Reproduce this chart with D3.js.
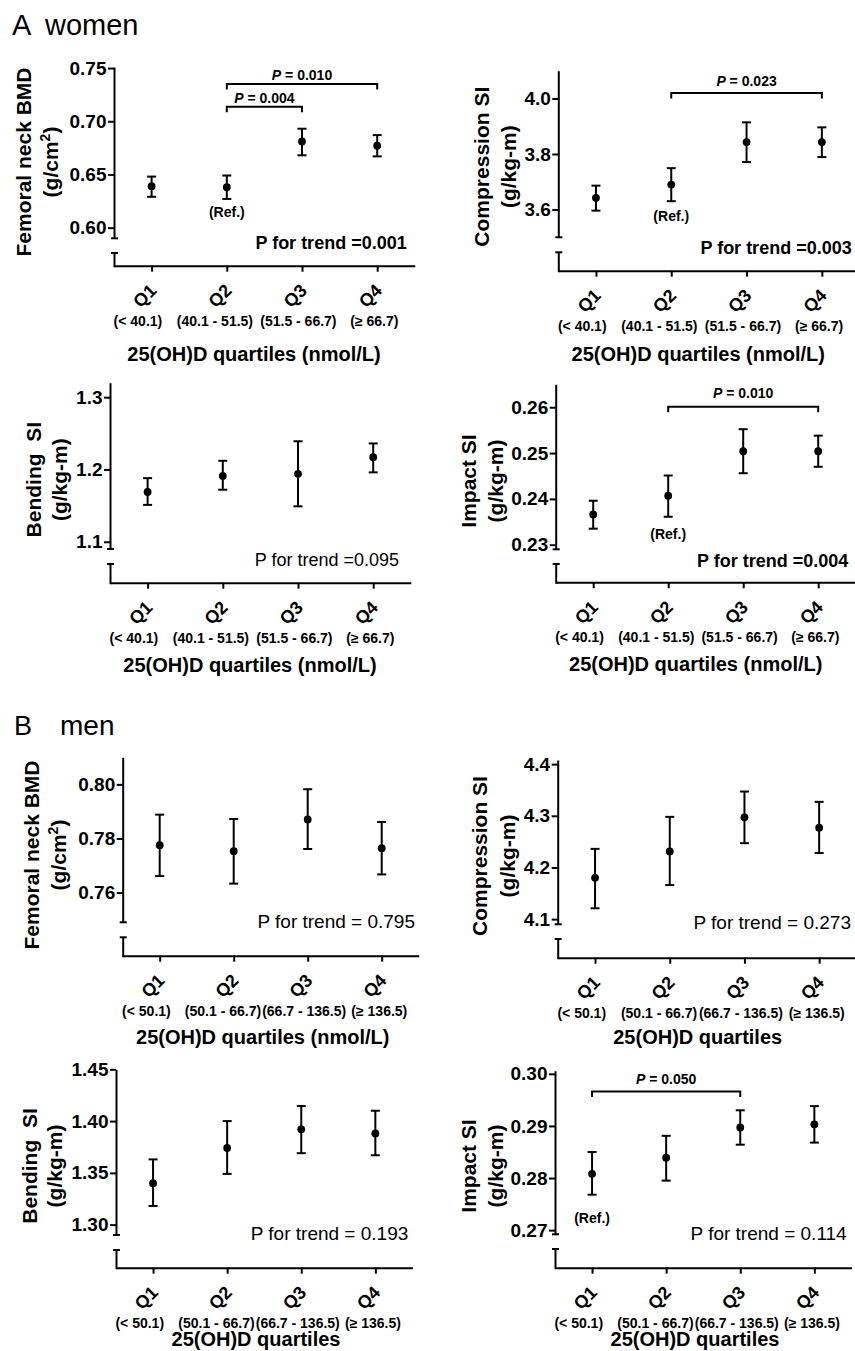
<!DOCTYPE html>
<html lang="en">
<head>
<meta charset="UTF-8">
<title>25(OH)D quartiles and bone strength</title>
<script src="https://d3js.org/d3.v7.min.js"></script>
<style>
  body { margin: 0; background: #fff; }
  svg { display: block; font-family: "Liberation Sans", Arial, Helvetica, sans-serif; }
</style>
</head>
<body>
<svg id="chart"></svg>
<script>
// categories and tick labels
const quartiles = ["Q1", "Q2", "Q3", "Q4"];
const womenRanges = ["(< 40.1)", "(40.1 - 51.5)", "(51.5 - 66.7)", "(≥ 66.7)"];
const menRanges = ["(< 50.1)", "(50.1 - 66.7)", "(66.7 - 136.5)", "(≥ 136.5)"];

// women (mean, lower and upper end of error bar)
const womenBmd = [0.639, 0.638, 0.681, 0.677];
const womenBmdLow = [0.629, 0.627, 0.668, 0.667];
const womenBmdHigh = [0.648, 0.649, 0.693, 0.687];
const womenBmdTicks = [0.60, 0.65, 0.70, 0.75];

const womenComp = [3.642, 3.690, 3.843, 3.843];
const womenCompLow = [3.596, 3.630, 3.771, 3.789];
const womenCompHigh = [3.686, 3.749, 3.914, 3.896];
const womenCompTicks = [3.6, 3.8, 4.0];

const womenBend = [1.169, 1.191, 1.194, 1.217];
const womenBendLow = [1.151, 1.172, 1.149, 1.196];
const womenBendHigh = [1.188, 1.212, 1.239, 1.236];
const womenBendTicks = [1.1, 1.2, 1.3];

const womenImpact = [0.2366, 0.2407, 0.2504, 0.2504];
const womenImpactLow = [0.2335, 0.2361, 0.2456, 0.2470];
const womenImpactHigh = [0.2396, 0.2451, 0.2552, 0.2538];
const womenImpactTicks = [0.23, 0.24, 0.25, 0.26];

// men
const menBmd = [0.7775, 0.7753, 0.7870, 0.7764];
const menBmdLow = [0.7661, 0.7633, 0.7761, 0.7667];
const menBmdHigh = [0.7888, 0.7872, 0.7982, 0.7861];
const menBmdTicks = [0.76, 0.78, 0.80];

const menComp = [4.180, 4.231, 4.297, 4.277];
const menCompLow = [4.121, 4.166, 4.247, 4.228];
const menCompHigh = [4.236, 4.298, 4.347, 4.327];
const menCompTicks = [4.1, 4.2, 4.3, 4.4];

const menBend = [1.340, 1.374, 1.392, 1.388];
const menBendLow = [1.318, 1.349, 1.369, 1.367];
const menBendHigh = [1.363, 1.400, 1.4145, 1.410];
const menBendTicks = [1.30, 1.35, 1.40, 1.45];

const menImpact = [0.2808, 0.2839, 0.2897, 0.2903];
const menImpactLow = [0.2768, 0.2795, 0.2864, 0.2868];
const menImpactHigh = [0.2850, 0.2881, 0.2930, 0.2938];
const menImpactTicks = [0.27, 0.28, 0.29, 0.30];

// pairwise comparisons [from, to, P]
const womenBmdComparisons = [["Q2", "Q4", "0.010"], ["Q2", "Q3", "0.004"]];
const womenCompComparisons = [["Q2", "Q4", "0.023"]];
const womenImpactComparisons = [["Q2", "Q4", "0.010"]];
const menImpactComparisons = [["Q1", "Q3", "0.050"]];

const W = 855, H = 1351;
const svg = d3.select("#chart").attr("width", W).attr("height", H);

// offsets of the range labels from their tick (they are not centred)
const womenRangeShift = [-13.7, -11.9, -3.6, -2.8];
const menRangeShift = [-13.3, -10.7, -3.5, -2.4];

const panels = [
  { mean: womenBmd, low: womenBmdLow, high: womenBmdHigh, ticks: womenBmdTicks, fmt: ".2f",
    title: ["Femoral neck BMD", "(g/cm²)"], comps: womenBmdComparisons, ref: "Q2",
    trend: "P for trend =0.001", trendBold: true, ranges: womenRanges, xTitle: "25(OH)D quartiles (nmol/L)",
    L: { x0: 114, step: 75.2, domain: [0.59, 0.751], range: [238.3, 67], lowTop: 253, axisY: 265.7,
         titleX: [24, 51], titleY: 162, trendX: 406.7, trendY: 248.5, trendSize: 18,
         levels: [0.735, 0.7136], gaps: [4.3, 3.3], refY: 217, xTitleY: 361, shift: womenRangeShift } },
  { mean: womenComp, low: womenCompLow, high: womenCompHigh, ticks: womenCompTicks, fmt: ".1f",
    title: ["Compression SI", "(g/kg-m)"], comps: womenCompComparisons, ref: "Q2",
    trend: "P for trend =0.003", trendBold: true, ranges: womenRanges, xTitle: "25(OH)D quartiles (nmol/L)",
    L: { x0: 558.3, step: 75.3, domain: [3.5, 4.1], range: [237.3, 70.7], lowTop: 252.3, axisY: 270.7,
         titleX: [481.7, 508.3], titleY: 166.7, trendX: 851.7, trendY: 253.8, trendSize: 18,
         levels: [4.02], gaps: [7.4], refY: 220.5, xTitleY: 361, shift: womenRangeShift } },
  { mean: womenBend, low: womenBendLow, high: womenBendHigh, ticks: womenBendTicks, fmt: ".1f",
    title: ["Bending  SI", "(g/kg-m)"], comps: [], ref: null,
    trend: "P for trend =0.095", trendBold: false, ranges: womenRanges, xTitle: "25(OH)D quartiles (nmol/L)",
    L: { x0: 110, step: 75.2, domain: [1.09, 1.32], range: [549, 382.7], lowTop: 564, axisY: 582.7,
         titleX: [33.3, 59.3], titleY: 479.7, trendX: 399, trendY: 565.8, trendSize: 18,
         levels: [], gaps: [], refY: 0, xTitleY: 672, shift: womenRangeShift } },
  { mean: womenImpact, low: womenImpactLow, high: womenImpactHigh, ticks: womenImpactTicks, fmt: ".2f",
    title: ["Impact SI", "(g/kg-m)"], comps: womenImpactComparisons, ref: "Q2",
    trend: "P for trend =0.004", trendBold: true, ranges: womenRanges, xTitle: "25(OH)D quartiles (nmol/L)",
    L: { x0: 555.7, step: 75, domain: [0.229, 0.265], range: [549.3, 384.3], lowTop: 564, axisY: 582.3,
         titleX: [468.3, 495.7], titleY: 481, trendX: 848.3, trendY: 566.5, trendSize: 18,
         levels: [0.2601], gaps: [8.4], refY: 539, xTitleY: 671, shift: womenRangeShift } },
  { mean: menBmd, low: menBmdLow, high: menBmdHigh, ticks: menBmdTicks, fmt: ".2f",
    title: ["Femoral neck BMD", "(g/cm²)"], comps: [], ref: null,
    trend: "P for trend = 0.795", trendBold: false, ranges: menRanges, xTitle: "25(OH)D quartiles (nmol/L)",
    L: { x0: 122.7, step: 74, domain: [0.749, 0.81], range: [922.3, 757.3], lowTop: 937.3, axisY: 955.7,
         titleX: [31.7, 58.3], titleY: 855, trendX: 415, trendY: 927.8, trendSize: 19,
         levels: [], gaps: [], refY: 0, xTitleY: 1044, shift: menRangeShift } },
  { mean: menComp, low: menCompLow, high: menCompHigh, ticks: menCompTicks, fmt: ".1f",
    title: ["Compression SI", "(g/kg-m)"], comps: [], ref: null,
    trend: "P for trend = 0.273", trendBold: false, ranges: menRanges, xTitle: "25(OH)D quartiles",
    L: { x0: 557.7, step: 74.7, domain: [4.09, 4.408], range: [924.3, 760], lowTop: 939, axisY: 957.7,
         titleX: [480, 507.7], titleY: 856, trendX: 851, trendY: 929, trendSize: 19,
         levels: [], gaps: [], refY: 0, xTitleY: 1044, shift: menRangeShift } },
  { mean: menBend, low: menBendLow, high: menBendHigh, ticks: menBendTicks, fmt: ".2f",
    title: ["Bending  SI", "(g/kg-m)"], comps: [], ref: null,
    trend: "P for trend = 0.193", trendBold: false, ranges: menRanges, xTitle: "25(OH)D quartiles",
    L: { x0: 116, step: 74.1, domain: [1.29, 1.45], range: [1235, 1069.3], lowTop: 1250, axisY: 1267.7,
         titleX: [29.3, 54.3], titleY: 1166, trendX: 408.3, trendY: 1240, trendSize: 19,
         levels: [], gaps: [], refY: 0, xTitleY: 1346, shift: menRangeShift } },
  { mean: menImpact, low: menImpactLow, high: menImpactHigh, ticks: menImpactTicks, fmt: ".2f",
    title: ["Impact SI", "(g/kg-m)"], comps: menImpactComparisons, ref: "Q1",
    trend: "P for trend = 0.114", trendBold: false, ranges: menRanges, xTitle: "25(OH)D quartiles",
    L: { x0: 555, step: 74.1, domain: [0.2692, 0.3006], range: [1234.3, 1070.7], lowTop: 1249, axisY: 1267.7,
         titleX: [468.3, 495.7], titleY: 1166, trendX: 846.7, trendY: 1239.5, trendSize: 19,
         levels: [0.2966], gaps: [7.4], refY: 1222.5, xTitleY: 1346, shift: menRangeShift } }
];

// section headings
svg.append("text").attr("x", 12).attr("y", 35).attr("font-size", 29).text("A");
svg.append("text").attr("x", 45).attr("y", 35).attr("font-size", 29).text("women");
svg.append("text").attr("x", 14).attr("y", 734.5).attr("font-size", 27).text("B");
svg.append("text").attr("x", 60).attr("y", 734.5).attr("font-size", 28).text("men");

function hline(g, x1, x2, y) {
  g.append("line").attr("x1", x1).attr("x2", x2).attr("y1", y).attr("y2", y)
    .attr("stroke", "#000").attr("stroke-width", 2);
}

function drawPanel(p) {
  const L = p.L;
  const g = svg.append("g");

  const x = d3.scalePoint().domain(quartiles)
    .range([L.x0, L.x0 + 4 * L.step]).padding(0.5);
  const y = d3.scaleLinear().domain(L.domain).range(L.range);

  // y axis (upper part, above the break)
  const yAxis = g.append("g")
    .attr("transform", `translate(${L.x0},0)`)
    .call(d3.axisLeft(y).tickValues(p.ticks).tickFormat(d3.format(p.fmt))
      .tickSize(6).tickSizeOuter(0).tickPadding(1.5));
  yAxis.selectAll("path, line").attr("stroke", "#000").attr("stroke-width", 2);
  yAxis.selectAll("text").attr("fill", "#000").attr("font-size", 19).attr("font-weight", "bold");
  yAxis.attr("font-family", null);

  // axis break and lower stub
  const ax = L.x0 + 0.5;
  hline(g, ax - 3.5, ax + 3.5, L.range[0]);
  hline(g, ax - 3.5, ax + 3.5, L.lowTop);
  g.append("line").attr("x1", ax).attr("x2", ax).attr("y1", L.lowTop).attr("y2", L.axisY + 1.5)
    .attr("stroke", "#000").attr("stroke-width", 2);

  // x axis
  const xAxis = g.append("g")
    .attr("transform", `translate(0,${L.axisY})`)
    .call(d3.axisBottom(x).tickSize(6).tickSizeOuter(0).tickFormat(""));
  xAxis.selectAll("path, line").attr("stroke", "#000").attr("stroke-width", 2);

  // rotated quartile labels
  g.selectAll(".q").data(quartiles).join("text")
    .attr("class", "q")
    .attr("transform", d => `translate(${x(d) + 6},${L.axisY + 26}) rotate(-45)`)
    .attr("text-anchor", "end")
    .attr("font-size", 18).attr("font-weight", "bold")
    .text(d => d);

  // nmol/L ranges
  g.selectAll(".rng").data(p.ranges).join("text")
    .attr("class", "rng")
    .attr("x", (d, i) => x(quartiles[i]) + L.shift[i])
    .attr("y", L.axisY + 60)
    .attr("text-anchor", "middle")
    .attr("font-size", 14).attr("font-weight", "bold")
    .text(d => d);

  g.append("text")
    .attr("x", L.x0 + 140).attr("y", L.xTitleY)
    .attr("text-anchor", "middle")
    .attr("font-size", 20).attr("font-weight", "bold")
    .text(p.xTitle);

  // y title, two lines
  p.title.forEach((line, i) => {
    const t = g.append("text")
      .attr("transform", `translate(${L.titleX[i]},${L.titleY}) rotate(-90)`)
      .attr("dy", "0.35em")
      .attr("text-anchor", "middle")
      .attr("font-size", 21).attr("font-weight", "bold")
      .attr("xml:space", "preserve")
      .style("white-space", "pre");
    if (line.includes("²")) {
      const parts = line.split("²");
      t.append("tspan").text(parts[0]);
      t.append("tspan").attr("font-size", 14).attr("dy", -8).text("2");
      t.append("tspan").attr("dy", 8).text(parts[1]);
    } else {
      t.text(line);
    }
  });

  // error bars and means
  const pts = quartiles.map((q, i) => ({ q, m: p.mean[i], lo: p.low[i], hi: p.high[i] }));
  g.selectAll(".err").data(pts).join("line")
    .attr("class", "err")
    .attr("x1", d => x(d.q)).attr("x2", d => x(d.q))
    .attr("y1", d => y(d.lo)).attr("y2", d => y(d.hi))
    .attr("stroke", "#000").attr("stroke-width", 2);
  ["lo", "hi"].forEach(k => {
    g.selectAll(".cap-" + k).data(pts).join("line")
      .attr("class", "cap-" + k)
      .attr("x1", d => x(d.q) - 4.5).attr("x2", d => x(d.q) + 4.5)
      .attr("y1", d => y(d[k])).attr("y2", d => y(d[k]))
      .attr("stroke", "#000").attr("stroke-width", 2);
  });
  g.selectAll(".dot").data(pts).join("circle")
    .attr("class", "dot")
    .attr("cx", d => x(d.q)).attr("cy", d => y(d.m))
    .attr("r", 3.9).attr("fill", "#000");

  // comparison brackets
  p.comps.forEach((c, i) => {
    const yy = y(L.levels[i]);
    g.append("path")
      .attr("d", `M${x(c[0])},${yy + 5.5}V${yy}H${x(c[1])}V${yy + 5.5}`)
      .attr("fill", "none").attr("stroke", "#000").attr("stroke-width", 2);
    const t = g.append("text")
      .attr("x", (x(c[0]) + x(c[1])) / 2).attr("y", yy - L.gaps[i])
      .attr("text-anchor", "middle")
      .attr("font-size", 14).attr("font-weight", "bold");
    t.append("tspan").attr("font-style", "italic").text("P");
    t.append("tspan").text(" = " + c[2]);
  });

  if (p.ref) {
    g.append("text")
      .attr("x", x(p.ref)).attr("y", L.refY)
      .attr("text-anchor", "middle")
      .attr("font-size", 14).attr("font-weight", "bold")
      .text("(Ref.)");
  }

  g.append("text")
    .attr("x", L.trendX).attr("y", L.trendY)
    .attr("text-anchor", "end")
    .attr("font-size", L.trendSize)
    .attr("font-weight", p.trendBold ? "bold" : "normal")
    .text(p.trend);
}

panels.forEach(drawPanel);
</script>
</body>
</html>
